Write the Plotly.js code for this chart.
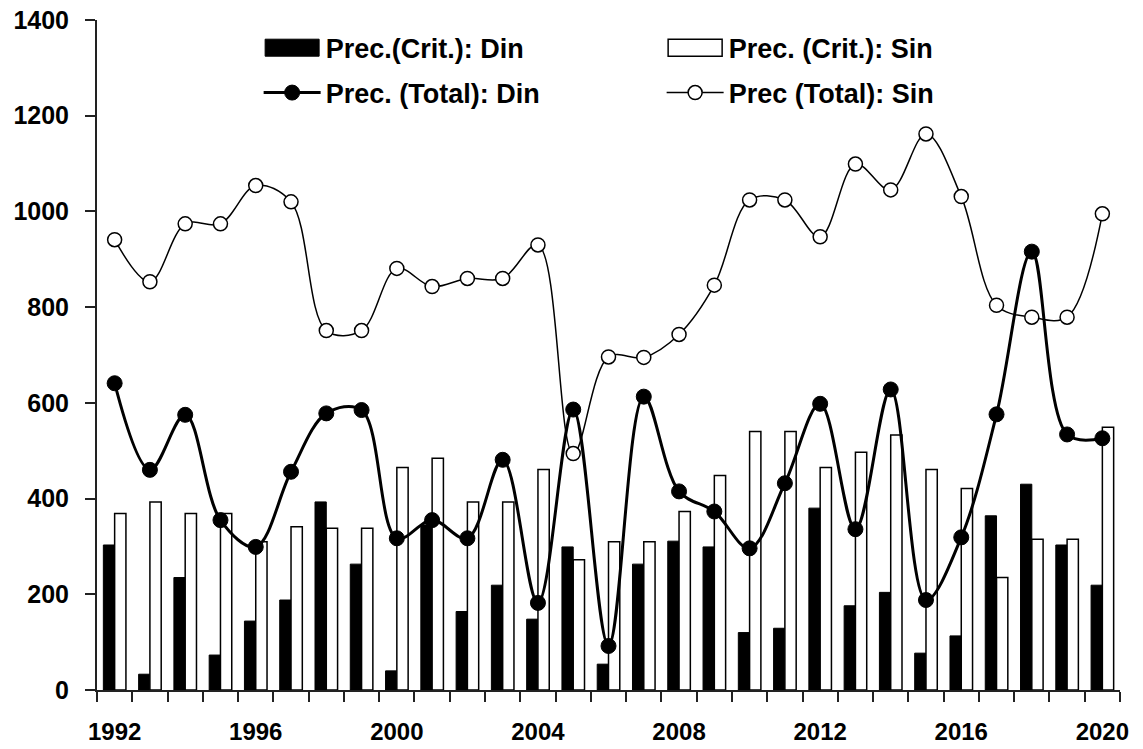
<!DOCTYPE html>
<html>
<head>
<meta charset="utf-8">
<script src="https://cdn.plot.ly/plotly-3.0.1.min.js"></script>
<style>html,body{margin:0;padding:0;background:#fff;}#chart{width:1143px;height:749px;}</style>
</head>
<body>
<div id="chart"></div>
<script>
const years = [1992,1993,1994,1995,1996,1997,1998,1999,2000,2001,2002,2003,2004,2005,2006,2007,2008,2009,2010,2011,2012,2013,2014,2015,2016,2017,2018,2019,2020];
const critDin = [303,33,235,73,144,188,393,263,40,345,164,219,148,299,54,263,311,299,120,129,380,176,204,77,113,364,430,303,219];
const critSin = [369,393,369,369,310,341,338,338,465,484,393,393,461,272,310,310,373,448,540,540,465,497,533,461,421,235,315,315,549];
const totalDin = [641,460,575,355,299,456,578,585,317,355,317,481,182,586,92,613,415,373,296,432,598,336,628,188,319,576,916,534,526];
const totalSin = [941,853,974,974,1054,1020,751,751,881,843,860,860,930,494,696,695,743,846,1024,1024,947,1099,1045,1162,1031,804,779,779,995];
const yTicks = [0,200,400,600,800,1000,1200,1400];

const fam = 'Arial, Liberation Sans, sans-serif';
const legFont = {family:fam, size:27, color:'#000', weight:'bold'};
const tickFont = {family:fam, size:25, color:'#000', weight:'bold'};
const xTickFont = {family:fam, size:24, color:'#000', weight:'bold'};

const traces = [
  {type:'bar', x:years, y:critDin, name:'Prec.(Crit.): Din', legend:'legend',
   marker:{color:'#000', line:{color:'#000', width:1}}},
  {type:'bar', x:years, y:critSin, name:'Prec. (Crit.): Sin', legend:'legend',
   marker:{color:'#fff', line:{color:'#000', width:1.5}}},
  {type:'scatter', mode:'lines+markers', x:years, y:totalDin, name:'Prec. (Total): Din', legend:'legend2',
   line:{color:'#000', width:3, shape:'spline', smoothing:1},
   marker:{symbol:'circle', size:15, color:'#000', line:{color:'#000', width:1}}},
  {type:'scatter', mode:'lines+markers', x:years, y:totalSin, name:'Prec (Total): Sin', legend:'legend2',
   line:{color:'#000', width:1.5, shape:'spline', smoothing:1},
   marker:{symbol:'circle', size:14, color:'#fff', line:{color:'#000', width:1.5}}}
];

const legendBase = {orientation:'h', font:legFont, itemwidth:57, entrywidthmode:'pixels', entrywidth:331,
  bgcolor:'rgba(0,0,0,0)', borderwidth:0, xanchor:'left', yanchor:'middle', traceorder:'normal'};

const layout = {
  width:1143, height:749,
  margin:{l:97, r:23, t:20, b:59},
  paper_bgcolor:'#fff', plot_bgcolor:'#fff',
  barmode:'group', bargap:0.36, bargroupgap:0,
  showlegend:true,
  legend:Object.assign({}, legendBase, {x:0.158, y:0.958}),
  legend2:Object.assign({}, legendBase, {x:0.158, y:0.891}),
  xaxis:{type:'linear', range:[1991.5,2020.5], tickmode:'linear', tick0:1992, dtick:4, tickformat:'d',
    ticks:'outside', ticklen:10, tickwidth:2, tickcolor:'rgba(0,0,0,0)',
    showgrid:false, zeroline:false, showline:true, linecolor:'#222', linewidth:2,
    ticklabelstandoff:9,
    tickfont:xTickFont,
    minor:{tickmode:'linear', tick0:1991.5, dtick:1, ticks:'outside', ticklen:10, tickwidth:2, tickcolor:'#222', showgrid:false}},
  yaxis:{range:[0,1400], tickvals:yTicks, ticks:'outside', ticklen:10, tickwidth:2, tickcolor:'#222',
    showgrid:false, zeroline:false, showline:true, linecolor:'#222', linewidth:2,
    ticklabelstandoff:11,
    tickfont:tickFont}
};

function fixLegendBars(gd){
  gd.querySelectorAll('g.legendpoints path').forEach(function(p){
    var d = (p.getAttribute('d') || '').replace(/\s/g,'');
    if (d === 'M6,6H-6V-6H6Z') p.setAttribute('d','M27,8.5H-27V-8.5H27Z');
  });
}
Plotly.newPlot('chart', traces, layout, {staticPlot:true, displayModeBar:false}).then(function(gd){
  fixLegendBars(gd);
  setTimeout(function(){ fixLegendBars(gd); }, 50);
});
</script>
</body>
</html>
